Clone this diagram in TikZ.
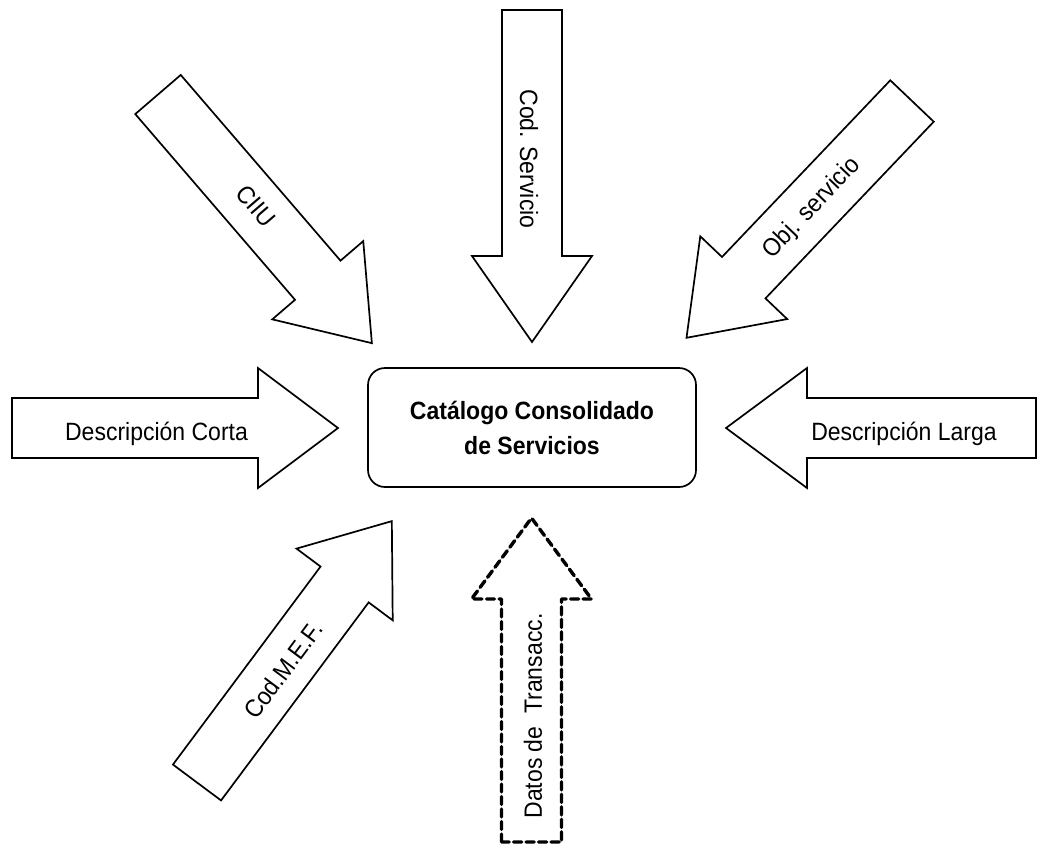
\documentclass[tikz,border=0pt]{standalone}
\usepackage{fontspec}
\setmainfont{Liberation Sans}
\newfontfamily\narrowfont[FakeStretch=0.92]{Liberation Sans}
\usetikzlibrary{positioning}

\tikzset{
  blockarrow/.style={draw=black,fill=white,line width=1.7pt,line join=miter},
  dashedarrow/.style={line width=3.4pt,dash pattern=on 8pt off 4.5pt,line join=round,line cap=round},
  arrowlabel/.style={inner sep=0pt,font=\narrowfont\fontsize{25}{28}\selectfont},
  mainbox/.style={draw=black,line width=1.7pt,rounded corners=17pt,minimum width=328pt,minimum height=119pt,
    align=center,font=\narrowfont\fontsize{25}{35}\selectfont\bfseries}
}
\newcommand{\CCSarrow}[5][]{\draw[blockarrow,#1,shift={(#2)},rotate=#3]
  (0,-30) -- (#4,-30) -- (#4,-60) -- (#5,0) -- (#4,60) -- (#4,30) -- (0,30) -- cycle;}

\begin{document}
\begin{tikzpicture}[x=1pt,y=-1pt]
  \useasboundingbox (0,0) rectangle (1047,846);
  \CCSarrow{158,94.5}{-49.3}{245}{328}
  \CCSarrow{532,10}{-90}{246}{332}
  \CCSarrow{912,101}{-133.6}{244}{327}
  \CCSarrow{12,428}{0}{246}{326}
  \CCSarrow{1036,428}{180}{229}{310}
  \CCSarrow{197,782.5}{53.3}{247}{326}
  \CCSarrow[dashedarrow]{531.5,842}{90}{243}{324}
  \node[mainbox] (catalogo) at (532,427.5) {Catálogo Consolidado\\de Servicios};
  \node[arrowlabel,rotate=-49.3] (ciiu) at (256,206) {CIIU};
  \node[arrowlabel,rotate=-90] (codserv) at (529,159) {Cod. Servicio};
  \node[arrowlabel,rotate=46.4] (objserv) at (812,208) {Obj. servicio};
  \node[arrowlabel,anchor=base] (desccorta) at (156.5,440) {Descripción Corta};
  \node[arrowlabel,anchor=base] (desclarga) at (904,440) {Descripción Larga};
  \node[arrowlabel,rotate=53.3] (codmef) at (283,670) {Cod.M.E.F.};
  \node[arrowlabel,rotate=90] (datostr) at (533,716) {Datos de\ \ Transacc.};
\end{tikzpicture}
\end{document}
